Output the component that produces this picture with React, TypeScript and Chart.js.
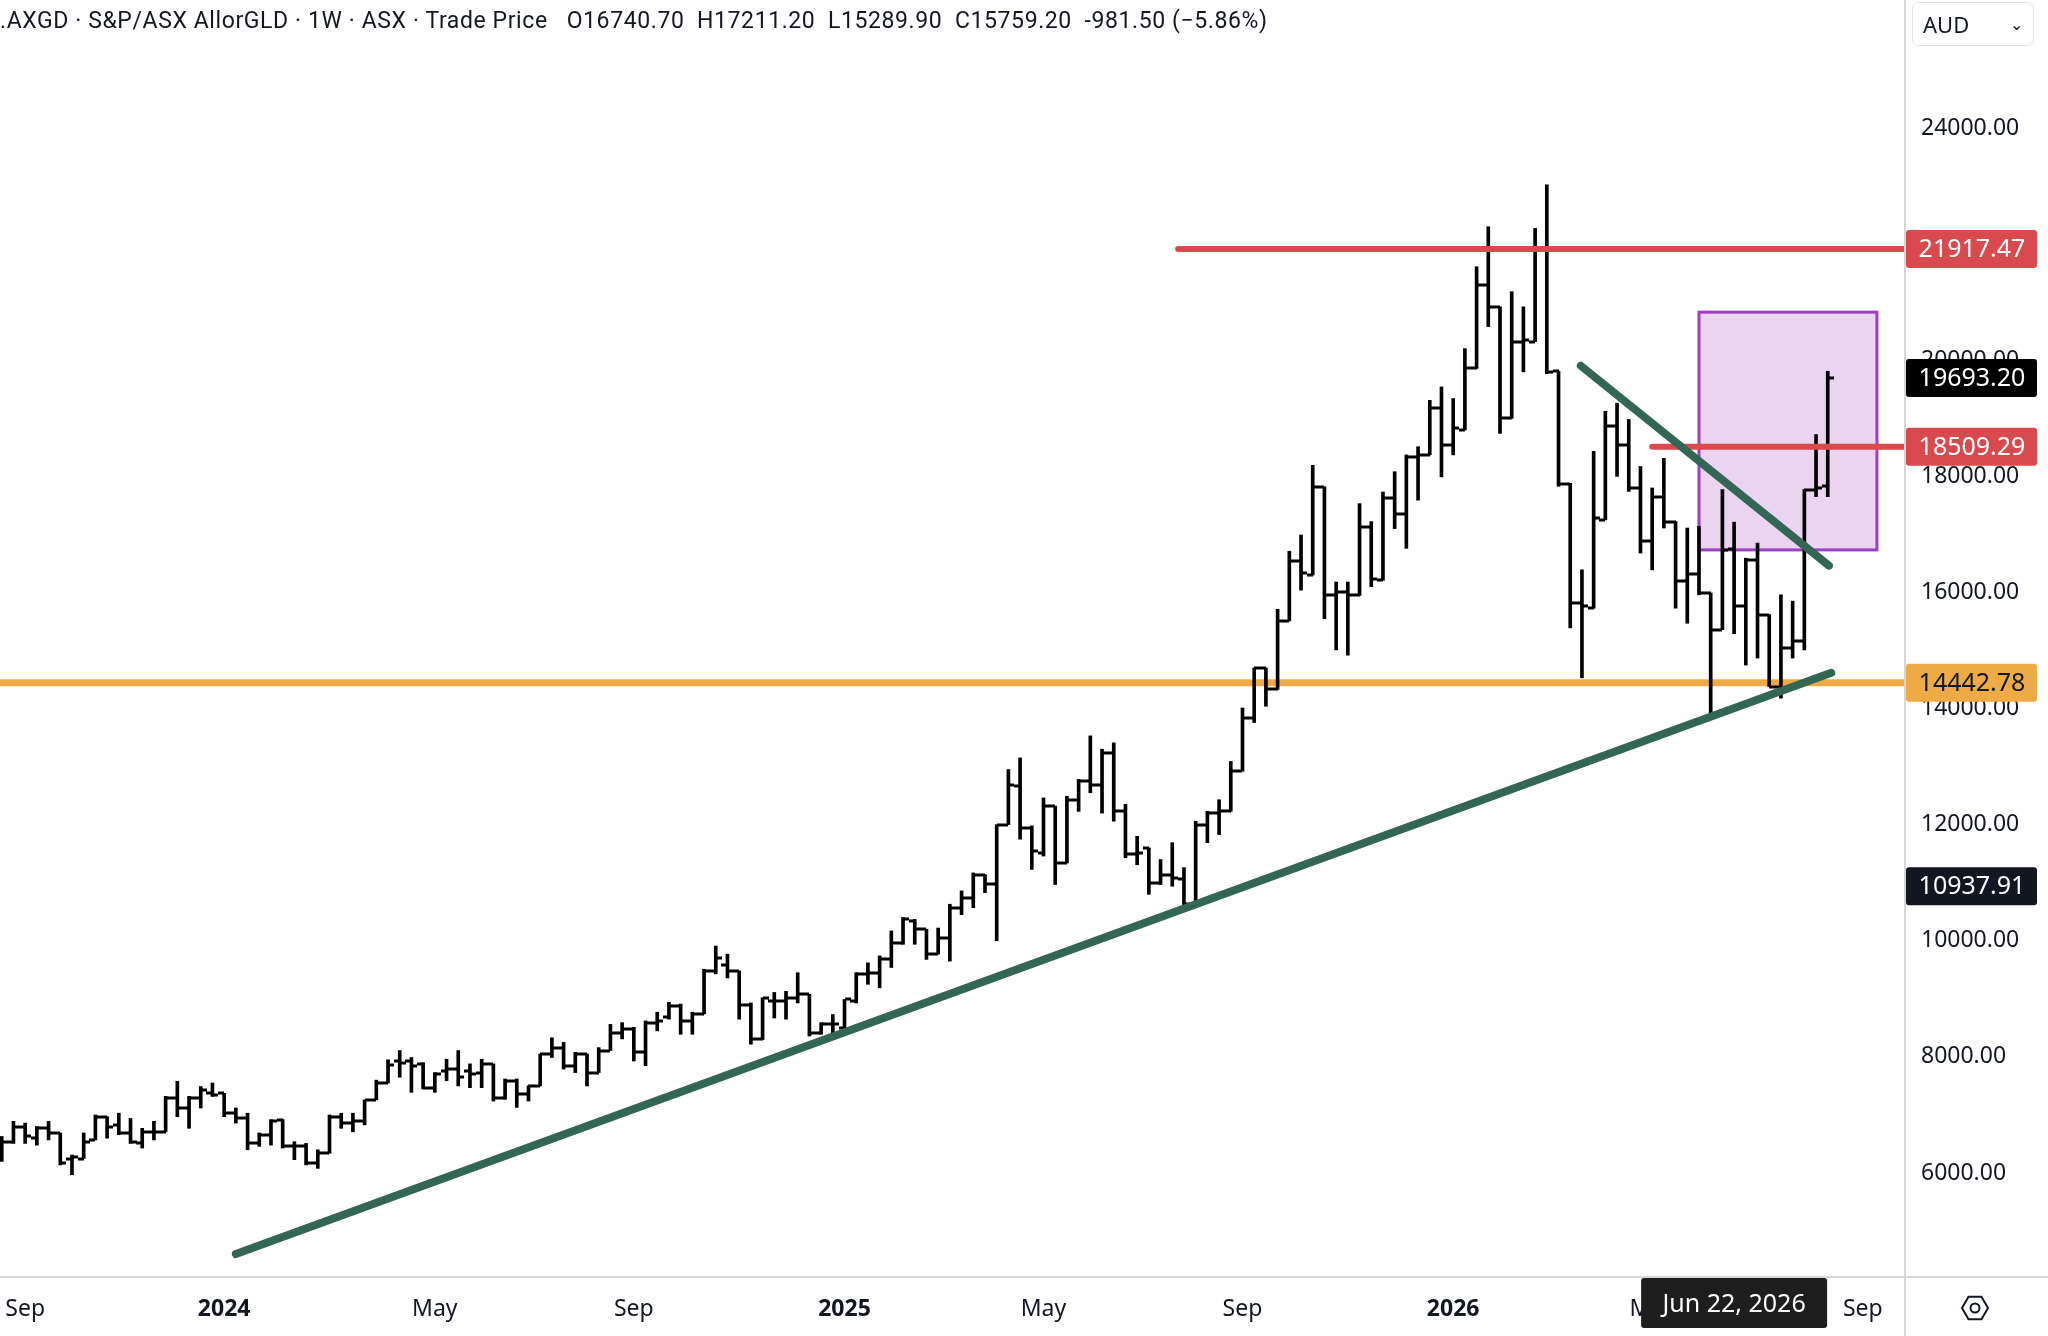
import React, { useEffect, useRef } from 'react';
import { Chart, registerables } from 'chart.js';

Chart.register(...registerables);

// weekly bars, first bar = week of Aug 21, 2023
const startDate = Date.UTC(2023, 7, 21);
const WEEK = 7 * 24 * 3600 * 1000;

const opens = [
  6480, 6540, 6800, 6600, 6770, 6690, 6250, 6250, 6570, 6970, 6830, 6690, 6510, 6710, 6710, 7290, 7120, 7290, 7370, 7370,
  7030, 6940, 6510, 6660, 6920, 6460, 6460, 6170, 6340, 6970, 6860, 6890, 7260, 7550, 7930, 7930, 7880, 7470, 7760, 7790,
  7760, 7730, 7880, 7300, 7590, 7360, 7500, 8050, 8160, 7850, 8050, 7730, 8110, 8420, 8480, 8080, 8590, 8680, 8880, 8620,
  8740, 9480, 9590, 9480, 8900, 8300, 8960, 8960, 9020, 9080, 8420, 8560, 8500, 8960, 9420, 9450, 9680, 9970, 10340, 10200,
  9770, 10050, 10570, 10740, 11140, 10970, 12000, 12660, 11950, 11520, 12320, 11340, 12430, 12750, 12690, 13240, 12230, 11490, 11600, 11000,
  11140, 11060, 10630, 12000, 12200, 12230, 12920, 13840, 14700, 14330, 15510, 16550, 16300, 17820, 15950, 16010, 15950, 17130, 16210, 17620,
  17360, 18340, 18370, 19170, 18540, 18800, 19860, 21290, 20920, 19000, 20320, 20320, 21900, 19810, 17860, 15820, 15730, 17250, 18860, 18540,
  17800, 16880, 17650, 17220, 16190, 16310, 15990, 15360, 16740.7, 15760, 16560, 15620, 14380, 15040, 15160, 17770, 17830,
];
const highs = [
  6630, 6890, 6860, 6800, 6890, 6690, 6310, 6690, 7000, 6970, 7030, 6940, 6770, 6890, 7320, 7580, 7320, 7490, 7550, 7370,
  7120, 7030, 6690, 6920, 6920, 6540, 6510, 6400, 7000, 7030, 7030, 7260, 7600, 7950, 8110, 7990, 7900, 7730, 7960, 8110,
  7880, 7960, 7880, 7620, 7620, 7500, 8050, 8330, 8250, 8080, 8050, 8160, 8560, 8590, 8510, 8620, 8770, 8940, 8910, 8770,
  9510, 9910, 9770, 9480, 8930, 9020, 9110, 9130, 9450, 9080, 8590, 8730, 8990, 9450, 9620, 9740, 10170, 10400, 10370, 10200,
  10220, 10630, 10860, 11170, 11140, 12000, 12950, 13150, 11980, 12460, 12320, 12490, 12780, 13530, 13300, 13410, 12350, 11800, 11600, 11400,
  11690, 11260, 12060, 12230, 12430, 13090, 14010, 14700, 14700, 15710, 16710, 16990, 18190, 17820, 16180, 16180, 17530, 17220, 17730, 18080,
  18370, 18510, 19310, 19540, 19340, 20200, 21610, 22300, 20920, 21180, 20920, 22270, 23020, 19810, 17880, 16390, 18430, 19120, 19260, 18980,
  18170, 17800, 18310, 17220, 17110, 17140, 15990, 17770, 17211.2, 16590, 16850, 15620, 15960, 15850, 17770, 18720, 19810,
];
const lows = [
  6200, 6510, 6510, 6480, 6570, 6140, 5970, 6250, 6570, 6600, 6660, 6510, 6430, 6570, 6710, 6970, 6770, 7120, 7320, 6970,
  6860, 6400, 6460, 6480, 6430, 6230, 6140, 6080, 6340, 6770, 6710, 6830, 7260, 7550, 7650, 7390, 7450, 7390, 7590, 7500,
  7470, 7470, 7240, 7270, 7130, 7240, 7500, 7990, 7790, 7730, 7500, 7730, 8110, 8310, 7930, 7850, 8450, 8650, 8390, 8390,
  8740, 9430, 9360, 8650, 8220, 8300, 8670, 8650, 8930, 8360, 8390, 8360, 8500, 8930, 9250, 9190, 9540, 9940, 9940, 9680,
  9770, 9650, 10450, 10570, 10830, 10000, 12000, 11750, 11230, 11460, 10970, 11340, 12230, 12550, 12200, 12060, 11430, 11310, 10800, 10970,
  10940, 10600, 10630, 11690, 11830, 12230, 12920, 13760, 14040, 14330, 15510, 16040, 16300, 15550, 15010, 14920, 15950, 16100, 16210, 17100,
  16760, 17590, 18370, 17990, 18370, 18800, 19860, 20580, 18740, 19000, 19800, 20320, 19770, 17830, 15390, 14530, 15730, 17250, 18000, 17740,
  16680, 16390, 17110, 15730, 15470, 15960, 13890, 15360, 15289.9, 14750, 14870, 14380, 14180, 14870, 15010, 17650, 17650,
];
const closes = [
  6540, 6800, 6630, 6770, 6690, 6170, 6280, 6540, 6970, 6800, 6690, 6540, 6710, 6710, 7290, 7120, 7290, 7430, 7350, 7030,
  6940, 6510, 6660, 6890, 6460, 6460, 6170, 6340, 6970, 6860, 6890, 7260, 7550, 7860, 7900, 7850, 7470, 7700, 7790, 7650,
  7700, 7880, 7300, 7590, 7360, 7500, 8050, 8160, 7850, 8050, 7730, 8110, 8420, 8480, 8080, 8590, 8620, 8880, 8620, 8740,
  9480, 9710, 9480, 8900, 8300, 9020, 8960, 9020, 9080, 8420, 8560, 8560, 8990, 9420, 9450, 9680, 9970, 10370, 10200, 9770,
  10050, 10570, 10740, 11140, 10970, 12000, 12680, 11950, 11540, 12320, 11340, 12430, 12750, 12690, 13240, 12230, 11490, 11520, 11000, 11140,
  11090, 10630, 12000, 12200, 12230, 12920, 13840, 14700, 14330, 15510, 16550, 16330, 17820, 15950, 16010, 15950, 17130, 16240, 17620, 17360,
  18340, 18370, 19170, 18540, 18830, 19860, 21290, 20920, 19000, 20320, 20350, 21900, 19800, 17860, 15820, 15760, 17280, 18860, 18540, 17800,
  16880, 17650, 17220, 16190, 16310, 15990, 15360, 16740, 15759.2, 16560, 15620, 14380, 15040, 15160, 17770, 17800, 19693.2,
];

// month ticks on the time axis
const tickLabels = ['Sep', '2024', 'May', 'Sep', '2025', 'May', 'Sep', '2026', 'May', 'Sep'];
const tickDates = [
  Date.UTC(2023, 8, 1), Date.UTC(2024, 0, 1), Date.UTC(2024, 4, 1), Date.UTC(2024, 8, 1), Date.UTC(2025, 0, 1),
  Date.UTC(2025, 4, 1), Date.UTC(2025, 8, 1), Date.UTC(2026, 0, 1), Date.UTC(2026, 4, 1), Date.UTC(2026, 8, 1),
];
const crosshairDate = Date.UTC(2026, 5, 22);
const crosshairPrice = 10937.91;

// drawn levels
const resistanceHigh = 21917.47;
const resistanceLow = 18509.29;
const supportLevel = 14442.78;
const lastPrice = 19693.2;
const supportTrend = [{ x: 20, y: 4605 }, { x: 156.3, y: 14617 }];
const downTrend = [{ x: 134.9, y: 19905 }, { x: 156.1, y: 16462 }];
const targetBox = { x0: 145, x1: 160.2, y0: 16733, y1: 20828 };

const weekIndex = (d: number) => Math.ceil((d - startDate) / WEEK - 1e-9);
const tickIdx = tickDates.map(weekIndex);

const FONT = '"Noto Sans", "Open Sans", sans-serif';

const App: React.FC = () => {
  const chartRef = useRef<HTMLCanvasElement>(null);
  const chartInstance = useRef<Chart | null>(null);

  useEffect(() => {
    document.body.style.margin = '0';
    if (!chartRef.current) return;
    const ctx = chartRef.current.getContext('2d');
    if (!ctx) return;
    if (chartInstance.current) chartInstance.current.destroy();

    const ohlcPlugin = {
      id: 'ohlc',
      beforeDatasetsDraw(chart: any) {
        const { ctx: c, scales } = chart;
        const x = scales.x, y = scales.y;
        c.save();
        c.fillStyle = 'rgba(156, 39, 176, 0.2)';
        c.strokeStyle = '#9c3fc0';
        c.lineWidth = 3;
        const bx0 = x.getPixelForValue(targetBox.x0), bx1 = x.getPixelForValue(targetBox.x1);
        const by0 = y.getPixelForValue(targetBox.y1), by1 = y.getPixelForValue(targetBox.y0);
        c.fillRect(bx0, by0, bx1 - bx0, by1 - by0);
        c.strokeRect(bx0, by0, bx1 - bx0, by1 - by0);
        c.restore();
      },
      afterDatasetDraw(chart: any, args: any) {
        if (args.index !== 0) return;
        const { ctx: c, scales } = chart;
        const x = scales.x, y = scales.y;
        c.save();
        c.strokeStyle = '#000';
        c.lineWidth = 3;
        c.beginPath();
        opens.forEach((o, i) => {
          const px = Math.round(x.getPixelForValue(i));
          const yo = Math.round(y.getPixelForValue(o));
          const yc = Math.round(y.getPixelForValue(closes[i]));
          c.moveTo(px - 6, yo);
          c.lineTo(px, yo);
          c.moveTo(px, yc);
          c.lineTo(px + 6, yc);
        });
        c.stroke();
        c.restore();
      },
      afterDraw(chart: any) {
        const { ctx: c, scales } = chart;
        const x = scales.x, y = scales.y;
        c.save();
        const tags = [
          { v: resistanceHigh, bg: '#d94a4f', fg: '#fff' },
          { v: lastPrice, bg: '#000', fg: '#fff' },
          { v: resistanceLow, bg: '#d94a4f', fg: '#fff' },
          { v: supportLevel, bg: '#eeaa44', fg: '#131722' },
          { v: crosshairPrice, bg: '#131722', fg: '#fff' },
        ];
        c.font = `25px ${FONT}`;
        c.textAlign = 'center';
        c.textBaseline = 'middle';
        tags.forEach((t) => {
          const py = y.getPixelForValue(t.v);
          c.fillStyle = t.bg;
          c.beginPath();
          c.roundRect(1906, py - 19, 131, 38, 3);
          c.fill();
          c.fillStyle = t.fg;
          c.fillText(t.v.toFixed(2), 1972, py + 1);
        });
        // date label of crosshair
        const dx = x.getPixelForValue(weekIndex(crosshairDate));
        c.fillStyle = '#1e1e1e';
        c.beginPath();
        c.roundRect(dx - 93, 1278, 186, 50, 3);
        c.fill();
        c.fillStyle = '#fff';
        c.font = `25px ${FONT}`;
        c.fillText('Jun 22, 2026', dx, 1305);
        // axis separators
        c.strokeStyle = '#d6d6d6';
        c.lineWidth = 2;
        c.beginPath();
        c.moveTo(0, 1277);
        c.lineTo(2048, 1277);
        c.moveTo(1905, 0);
        c.lineTo(1905, 1336);
        c.stroke();
        // settings glyph
        c.strokeStyle = '#131722';
        c.lineWidth = 2;
        c.beginPath();
        for (let k = 0; k < 6; k++) {
          const a = (Math.PI / 3) * k;
          const hx = 1975 + 13 * Math.cos(a), hy = 1308 + 13 * Math.sin(a);
          if (k === 0) c.moveTo(hx, hy); else c.lineTo(hx, hy);
        }
        c.closePath();
        c.stroke();
        c.beginPath();
        c.arc(1975, 1308, 4.5, 0, Math.PI * 2);
        c.stroke();
        c.restore();
      },
    };

    const xMax = 162.6;
    chartInstance.current = new Chart(ctx, {
      type: 'bar',
      data: {
        datasets: [
          {
            type: 'bar',
            data: highs.map((h, i) => ({ x: i, y: [lows[i], h] })) as any,
            backgroundColor: '#000',
            barThickness: 3,
            order: 2,
          },
          {
            type: 'line',
            data: [{ x: -1, y: supportLevel }, { x: xMax + 1, y: supportLevel }],
            borderColor: '#eeaa44',
            borderWidth: 7,
            pointRadius: 0,
            order: 3,
          },
          {
            type: 'line',
            data: [{ x: 100.5, y: resistanceHigh }, { x: xMax + 1, y: resistanceHigh }],
            borderColor: '#d94a4f',
            borderWidth: 6,
            borderCapStyle: 'round',
            pointRadius: 0,
            order: 1,
          },
          {
            type: 'line',
            data: [{ x: 141, y: resistanceLow }, { x: xMax + 1, y: resistanceLow }],
            borderColor: '#d94a4f',
            borderWidth: 6,
            borderCapStyle: 'round',
            pointRadius: 0,
            order: 1,
          },
          {
            type: 'line',
            data: supportTrend,
            borderColor: '#336655',
            borderWidth: 8,
            borderCapStyle: 'round',
            pointRadius: 0,
            order: 0,
          },
          {
            type: 'line',
            data: downTrend,
            borderColor: '#336655',
            borderWidth: 8,
            borderCapStyle: 'round',
            pointRadius: 0,
            order: 0,
          },
        ] as any,
      },
      options: {
        responsive: false,
        devicePixelRatio: 1,
        animation: false,
        layout: { padding: 0 },
        plugins: { legend: { display: false }, tooltip: { enabled: false } },
        scales: {
          x: {
            type: 'linear',
            offset: false,
            min: -0.15,
            max: xMax,
            grid: { display: false, offset: false },
            border: { display: false },
            afterFit: (s: any) => { s.height = 59; s.paddingLeft = 0; s.paddingRight = 0; },
            afterBuildTicks: (s: any) => { s.ticks = tickIdx.map((v) => ({ value: v })); },
            ticks: {
              autoSkip: false,
              maxRotation: 0,
              padding: 11,
              color: '#131722',
              font: (c: any) => ({
                family: FONT,
                size: 23,
                weight: /^\d{4}$/.test(tickLabels[tickIdx.indexOf(c.tick?.value)] || '') ? 'bold' : 'normal',
              }),
              callback: (v: any) => tickLabels[tickIdx.indexOf(v)] ?? '',
            },
          },
          y: {
            type: 'linear',
            position: 'right',
            min: 4209,
            max: 26205,
            grid: { display: false, drawTicks: false },
            border: { display: false },
            afterFit: (s: any) => { s.width = 143; s.paddingTop = 0; s.paddingBottom = 0; },
            afterBuildTicks: (s: any) => {
              const t = [];
              for (let v = 6000; v <= 24000; v += 2000) t.push({ value: v });
              s.ticks = t;
            },
            ticks: {
              padding: 16,
              color: '#131722',
              font: { family: FONT, size: 23 },
              callback: (v: any) => Number(v).toFixed(2),
            },
          },
        },
      } as any,
      plugins: [ohlcPlugin],
    });

    return () => {
      if (chartInstance.current) {
        chartInstance.current.destroy();
        chartInstance.current = null;
      }
    };
  }, []);

  return (
    <div style={{ position: 'relative', width: 2048, height: 1336, background: '#fff', overflow: 'hidden' }}>
      <canvas ref={chartRef} width={2048} height={1336} />
      <div
        style={{
          position: 'absolute', left: 0, top: 7, fontSize: 23, color: '#131722', whiteSpace: 'nowrap',
          fontFamily: '"Liberation Sans Narrow", "Roboto", sans-serif', letterSpacing: 0.6,
        }}
      >
        .AXGD · S&amp;P/ASX AllorGLD · 1W · ASX · Trade Price&nbsp;&nbsp; O16740.70&nbsp; H17211.20&nbsp; L15289.90&nbsp; C15759.20&nbsp; -981.50 (−5.86%)
      </div>
      <div
        style={{
          position: 'absolute', left: 1912, top: 2, width: 122, height: 44, boxSizing: 'border-box',
          border: '1px solid #e4e4e4', borderRadius: 6, fontFamily: FONT, fontSize: 22, color: '#131722',
          display: 'flex', alignItems: 'center', justifyContent: 'space-between', padding: '0 10px',
        }}
      >
        <span>AUD</span>
        <span style={{ fontSize: 16 }}>⌄</span>
      </div>
    </div>
  );
};

export default App;
